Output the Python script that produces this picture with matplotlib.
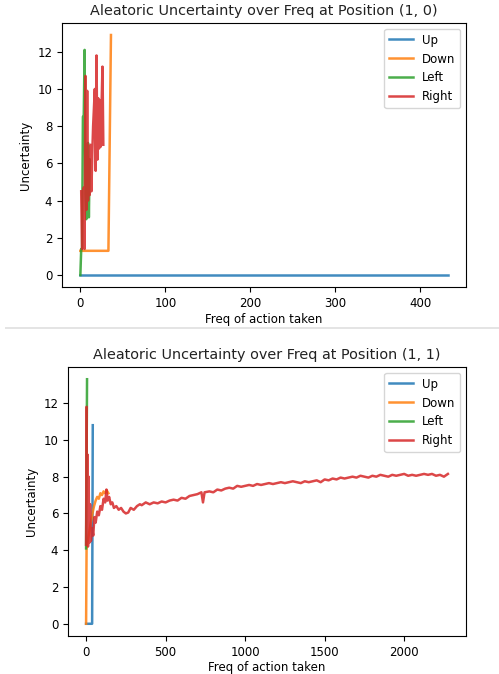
import matplotlib
matplotlib.use("Agg")
import matplotlib.pyplot as plt
from matplotlib.patches import Rectangle
import numpy as np

labels = ["Up", "Down", "Left", "Right"]

# position (1, 0)
up_x_10 = [0, 432]
up_y_10 = [0.0, 0.0]
down_x_10 = [0, 33, 36]
down_y_10 = [1.3, 1.3, 12.9]
left_x_10 = [0, 1, 2, 3, 4, 5, 6, 7, 8, 9, 10, 11]
left_y_10 = [0.0, 1.4, 1.4, 8.5, 8.6, 12.1, 4.3, 3.0, 4.4, 7.1, 3.1, 6.2]
right_x_10 = list(range(1, 28))
right_y_10 = [4.5, 1.4, 1.5, 4.7, 1.4, 10.7, 3.5, 9.9, 4.0, 6.3, 4.3, 7.0, 4.5,
              6.5, 8.0, 9.0, 10.0, 5.6, 11.8, 6.2, 9.5, 6.8, 9.4, 6.9, 9.2, 11.2, 7.0]

# position (1, 1)
up_x_11 = [0, 38, 42]
up_y_11 = [0.0, 0.0, 10.8]
down_x_11 = [0, 3, 10, 20, 30, 40, 50, 60, 70, 80, 90, 100, 110, 120, 130, 140]
down_y_11 = [0.0, 4.1, 4.5, 5.0, 5.5, 6.0, 6.4, 6.7, 6.9, 6.8, 7.1, 7.0, 7.2, 7.1, 7.25, 7.1]
left_x_11 = [0, 6]
left_y_11 = [4.1, 13.3]
right_x_11 = [0, 3, 6, 9, 12, 16, 20, 25, 30, 38, 45, 52, 60, 70, 80, 90, 100,
              110, 120, 128, 135, 145, 155, 165, 175, 190, 205, 220, 235, 250,
              265, 280, 300, 320, 338,
              350, 375, 400, 425, 450, 475, 500, 525, 550, 575, 600, 625, 650,
              675, 700, 725, 735, 745, 775, 800, 825, 850, 875, 900, 925, 950,
              975, 1000, 1025, 1050, 1075, 1100, 1125, 1150, 1175, 1200, 1225,
              1250, 1275, 1300, 1325, 1350, 1375, 1400, 1425, 1450, 1475, 1500,
              1525, 1550, 1575, 1600, 1625, 1650, 1675, 1700, 1725, 1750, 1775,
              1800, 1825, 1850, 1875, 1900, 1925, 1950, 1975, 2000, 2025, 2050,
              2075, 2100, 2125, 2150, 2175, 2200, 2225, 2250, 2275]
right_y_11 = [4.3, 11.8, 4.4, 9.2, 4.2, 8.0, 4.4, 6.5, 4.5, 5.2, 4.8, 5.8, 5.5,
              6.1, 5.9, 6.4, 6.2, 6.8, 6.6, 7.3, 6.7, 6.9, 6.5, 6.6, 6.3, 6.4,
              6.2, 6.3, 6.1, 6.0, 6.05, 6.3, 6.2, 6.4, 6.5,
              6.45, 6.6, 6.5, 6.6, 6.55, 6.65, 6.6, 6.7, 6.75, 6.7, 6.85, 6.8,
              6.95, 7.0, 7.05, 7.15, 6.6, 7.15, 7.2, 7.15, 7.3, 7.25, 7.35, 7.4,
              7.35, 7.5, 7.45, 7.5, 7.55, 7.5, 7.6, 7.55, 7.6, 7.65, 7.6, 7.65,
              7.7, 7.65, 7.7, 7.75, 7.7, 7.65, 7.75, 7.7, 7.75, 7.8, 7.7, 7.85,
              7.8, 7.9, 7.85, 7.95, 7.9, 7.95, 8.0, 7.95, 8.05, 8.0, 7.95, 8.05,
              8.0, 8.1, 8.05, 8.0, 8.1, 8.05, 8.1, 8.15, 8.05, 8.1, 8.05, 8.1,
              8.15, 8.1, 8.15, 8.05, 8.1, 8.0, 8.15]

colors = ["#1f77b4", "#ff7f0e", "#2ca02c", "#d62728"]


def draw(ax, series, title):
    for (x, y), c, lab in zip(series, colors, labels):
        ax.plot(x, y, color=c, lw=1.8, alpha=0.85, label=lab)
    ax.set_title(title, fontsize=10.4, color="#222222")
    ax.set_xlabel("Freq of action taken", fontsize=8.5, labelpad=2)
    ax.set_ylabel("Uncertainty", fontsize=8.5)
    ax.tick_params(labelsize=8.5)
    ax.set_yticks([0, 2, 4, 6, 8, 10, 12])
    ax.legend(loc="upper right", fontsize=8.5)


fig = plt.figure(figsize=(4.99, 6.74), dpi=100)
ax1 = fig.add_axes([62 / 499, 1 - 287 / 674, 404 / 499, 264 / 674])
ax2 = fig.add_axes([68 / 499, 1 - 636 / 674, 398 / 499, 269 / 674])

draw(ax1, [(up_x_10, up_y_10), (down_x_10, down_y_10), (left_x_10, left_y_10),
           (right_x_10, right_y_10)],
     "Aleatoric Uncertainty over Freq at Position (1, 0)")
draw(ax2, [(up_x_11, up_y_11), (down_x_11, down_y_11), (left_x_11, left_y_11),
           (right_x_11, right_y_11)],
     "Aleatoric Uncertainty over Freq at Position (1, 1)")

# separator between the two notebook outputs
fig.add_artist(Rectangle((5 / 499, 1 - 329 / 674), 494 / 499, 2 / 674,
                         transform=fig.transFigure, color="#e4e4e4", lw=0))

fig.savefig("out.png", dpi=100)
